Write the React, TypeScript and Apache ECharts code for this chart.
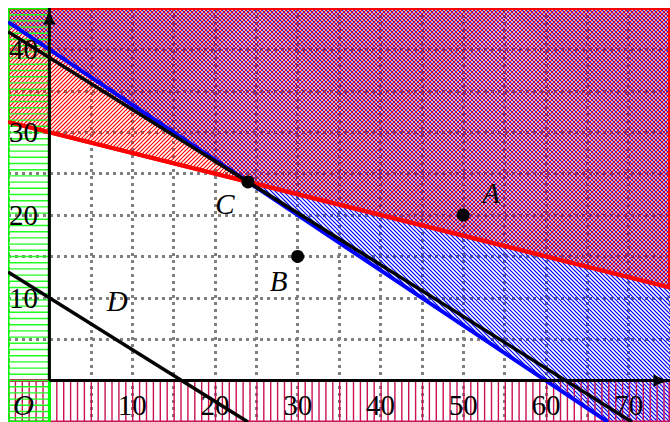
import React, { useEffect, useRef } from 'react';
import * as echarts from 'echarts';

// ---- data ----
const xTickLabels = [10, 20, 30, 40, 50, 60, 70];
const yTickLabels = [10, 20, 30, 40];
const pointNames = ['A', 'B', 'C'];
const pointX = [50, 30, 24];
const pointY = [20, 15, 24];
const redLine = [[-5, 31.25], [75, 11.25]]; // x + 4y = 120
const blueLine = [[-5, 43.333], [67.5, -5]]; // 2x + 3y = 120
const optimumLine = [[-5, 42.125], [70.4, -5]]; // 5x + 8y = 312
const dLine = [[-5, 13.125], [24, -5]]; // 5x + 8y = 80
const redRegion = [[-5, 31.25], [75, 11.25], [75, 45], [-5, 45]];
const blueRegion = [[-5, 43.333], [67.5, -5], [75, -5], [75, 45], [-5, 45]];
const leftStrip = [[-5, -5], [0, -5], [0, 45], [-5, 45]];
const bottomStrip = [[-5, -5], [75, -5], [75, 0], [-5, 0]];
const xAxisSegment = [[0, 0], [75, 0]];
const yAxisSegment = [[0, 0], [0, 45]];
const freeLabels = ['D', 'O'];
const freeLabelX = [8.2, 0];
const freeLabelY = [9.6, 0];

const SERIF = "'Liberation Serif', 'DejaVu Serif', serif";

function hatchSeries(
  pts: number[][], kind: string, color: string, step: number, lw: number,
  border: string, borderW: number, z: number,
) {
  return {
    type: 'custom',
    coordinateSystem: 'cartesian2d',
    silent: true,
    clip: false,
    z,
    data: [[0, 0]],
    renderItem: (_p: any, api: any) => {
      const poly: number[][] = pts.map((p) => api.coord(p));
      const diag = kind === 'ne' || kind === 'nw';
      const n = kind === 'ne' ? [1, 1] : kind === 'nw' ? [1, -1] : kind === 'h' ? [0, 1] : [1, 0];
      const dir = [-n[1], n[0]];
      const dots = poly.map((p) => p[0] * n[0] + p[1] * n[1]);
      const lo = Math.min(...dots);
      const hi = Math.max(...dots);
      const shift = diag ? 0 : 0.5;
      let d = '';
      for (let c = Math.ceil(lo / step) * step + shift; c < hi; c += step) {
        const hits: number[][] = [];
        for (let i = 0; i < poly.length; i++) {
          const a = poly[i];
          const b = poly[(i + 1) % poly.length];
          const fa = a[0] * n[0] + a[1] * n[1] - c;
          const fb = b[0] * n[0] + b[1] * n[1] - c;
          if ((fa <= 0 && fb > 0) || (fa > 0 && fb <= 0)) {
            const t = fa / (fa - fb);
            hits.push([a[0] + (b[0] - a[0]) * t, a[1] + (b[1] - a[1]) * t]);
          }
        }
        if (hits.length >= 2) {
          hits.sort((u, v) => (u[0] * dir[0] + u[1] * dir[1]) - (v[0] * dir[0] + v[1] * dir[1]));
          const s = hits[0];
          const e = hits[hits.length - 1];
          d += `M${s[0].toFixed(2)} ${s[1].toFixed(2)}L${e[0].toFixed(2)} ${e[1].toFixed(2)}`;
        }
      }
      const children: any[] = [
        { type: 'path', shape: { pathData: d }, style: { fill: 'none', stroke: color, lineWidth: lw } },
      ];
      if (borderW > 0) {
        children.push({
          type: 'polygon',
          shape: { points: poly },
          style: { fill: 'none', stroke: border, lineWidth: borderW },
        });
      }
      return { type: 'group', children };
    },
  };
}

function lineSeries(pts: number[][], color: string, width: number, z: number) {
  return {
    type: 'line',
    data: pts,
    showSymbol: false,
    symbol: 'none',
    silent: true,
    clip: false,
    z,
    lineStyle: { color, width },
  };
}

const arrowPath = 'path://M0 0 C1 6 3 12 6 16 L-6 16 C-3 12 -1 6 0 0 Z';
const tickFont = { fontSize: 29, fontFamily: SERIF, fill: '#000' };
const labelFont = { fontSize: 29, fontFamily: SERIF, fontStyle: 'italic', fill: '#000' };

export default function App() {
  const ref = useRef<HTMLDivElement>(null);
  useEffect(() => {
    const chart = echarts.init(ref.current!, null, { renderer: 'svg' });

    const axisCommon = {
      type: 'value',
      interval: 5,
      axisLine: { show: false, onZero: false },
      axisTick: { show: false },
      axisLabel: { show: false },
      splitLine: { show: true, lineStyle: { color: '#808080', width: 3, type: [3, 4] } },
    };

    const pointOffsets: Record<string, number[]> = { A: [28, -22], B: [-19, 25], C: [-23, 22] };

    const option: any = {
      animation: false,
      grid: { left: 0, right: 0, top: 0, bottom: 0, containLabel: false, outerBoundsMode: 'none' },
      xAxis: { ...axisCommon, min: -5, max: 75 },
      yAxis: { ...axisCommon, min: -5, max: 45 },
      series: [
        hatchSeries(blueRegion, 'nw', '#0000ff', 4, 1.15, '#0000ff', 0, 2),
        hatchSeries(redRegion, 'ne', '#ff0000', 4, 1.15, '#ff0000', 4, 3),
        hatchSeries(bottomStrip, 'v', '#cc1155', 6.9, 1.4, '#c8145a', 3, 4),
        hatchSeries(leftStrip, 'h', '#22ff22', 6.2, 1.4, '#00ff00', 3, 5),
        lineSeries(blueLine, '#0000ff', 4, 6),
        lineSeries(redLine, '#ff0000', 4, 7),
        lineSeries(optimumLine, '#000000', 3.5, 8),
        lineSeries(dLine, '#000000', 3.5, 8),
        lineSeries(xAxisSegment, '#000000', 3, 9),
        lineSeries(yAxisSegment, '#000000', 3, 9),
        {
          type: 'scatter',
          silent: true,
          clip: false,
          z: 9,
          symbol: arrowPath,
          symbolSize: [13, 17],
          itemStyle: { color: '#000', opacity: 1 },
          data: [
            { value: xAxisSegment[1], symbolRotate: -90, symbolOffset: [-8, 0] },
            { value: yAxisSegment[1], symbolRotate: 0, symbolOffset: [0, 8] },
          ],
        },
        // x tick labels
        {
          type: 'custom',
          coordinateSystem: 'cartesian2d',
          silent: true,
          clip: false,
          z: 11,
          data: xTickLabels.map((v) => [v, 0]),
          renderItem: (_p: any, api: any) => {
            const v = api.value(0);
            const [px, py] = api.coord([v, 0]);
            return {
              type: 'text',
              x: px,
              y: py + 24,
              style: { text: String(v), align: 'center', verticalAlign: 'middle', ...tickFont },
            };
          },
        },
        // y tick labels
        {
          type: 'custom',
          coordinateSystem: 'cartesian2d',
          silent: true,
          clip: false,
          z: 11,
          data: yTickLabels.map((v) => [-5, v]),
          renderItem: (_p: any, api: any) => {
            const v = api.value(1);
            const [px, py] = api.coord([-5, v]);
            return {
              type: 'text',
              x: px + 1,
              y: py,
              style: { text: String(v), align: 'left', verticalAlign: 'middle', ...tickFont },
            };
          },
        },
        {
          type: 'custom',
          coordinateSystem: 'cartesian2d',
          silent: true,
          clip: false,
          z: 12,
          data: pointNames.map((n, i) => [pointX[i], pointY[i]]),
          renderItem: (p: any, api: any) => {
            const [px, py] = api.coord([api.value(0), api.value(1)]);
            const name = pointNames[p.dataIndex];
            const off = pointOffsets[name];
            return {
              type: 'group',
              children: [
                { type: 'circle', shape: { cx: px, cy: py, r: 6.5 }, style: { fill: '#000' } },
                {
                  type: 'text',
                  x: px + off[0],
                  y: py + off[1],
                  style: { text: name, align: 'center', verticalAlign: 'middle', ...labelFont },
                },
              ],
            };
          },
        },
        {
          type: 'custom',
          coordinateSystem: 'cartesian2d',
          silent: true,
          clip: false,
          z: 12,
          data: freeLabels.map((n, i) => [freeLabelX[i], freeLabelY[i]]),
          renderItem: (p: any, api: any) => {
            const [px, py] = api.coord([api.value(0), api.value(1)]);
            const name = freeLabels[p.dataIndex];
            const off = name === 'O' ? [-26, 24] : [0, 0];
            return {
              type: 'text',
              x: px + off[0],
              y: py + off[1],
              style: { text: name, align: 'center', verticalAlign: 'middle', ...labelFont },
            };
          },
        },
      ],
    };
    chart.setOption(option);
    return () => chart.dispose();
  }, []);
  return (
    <div
      ref={ref}
      style={{ position: 'absolute', left: 8, top: 8, width: 662, height: 414 }}
    />
  );
}
